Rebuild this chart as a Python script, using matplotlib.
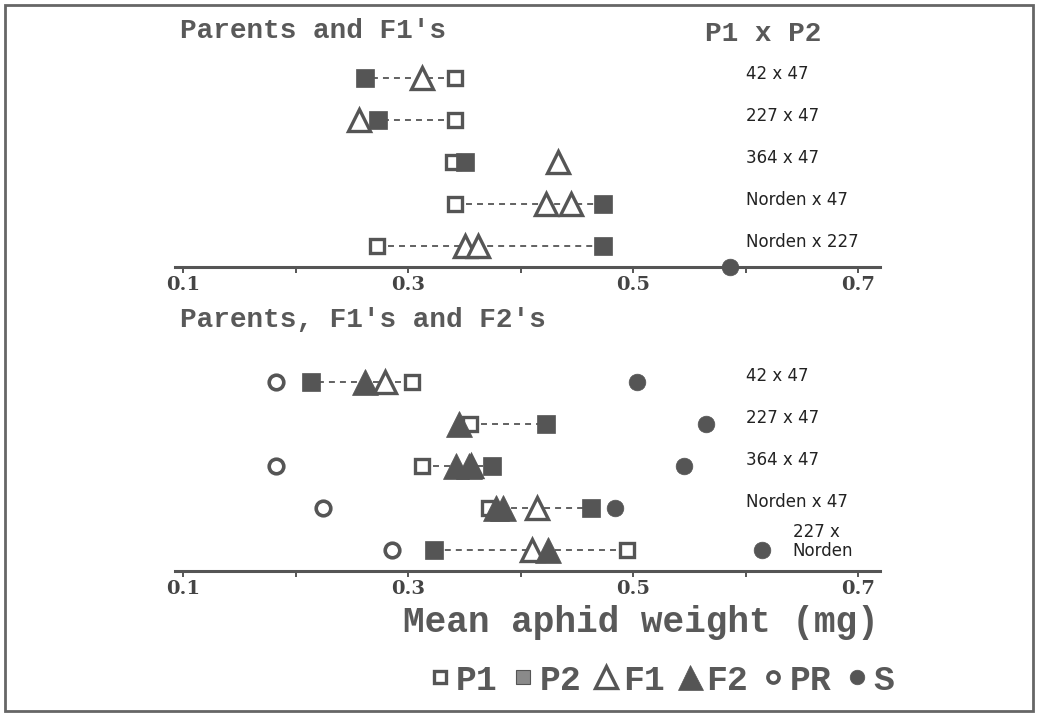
import matplotlib
matplotlib.use('Agg')
from matplotlib import pyplot as plt
from matplotlib.lines import Line2D
from matplotlib.patches import Rectangle

# Crosses (top to bottom) and mean aphid weights (mg).
top_crosses = ['42 x 47', '227 x 47', '364 x 47', 'Norden x 47', 'Norden x 227']
top_p1 = [0.342, 0.342, 0.340, 0.342, 0.272]
top_p2 = [0.262, 0.273, 0.351, 0.473, 0.473]
top_f1 = [[0.3125], [0.256], [0.433], [0.423, 0.445], [0.351, 0.3625]]
top_axis_s = [0.586]

bot_crosses = ['42 x 47', '227 x 47', '364 x 47', 'Norden x 47', '227 x\nNorden']
bot_p1 = [0.3036, 0.355, 0.3125, 0.372, 0.495]
bot_p2 = [0.2134, 0.423, 0.375, 0.463, 0.323]
bot_f1 = [[0.2795], [], [0.356], [0.415], [0.410]]
bot_f2 = [[0.2616], [0.3455], [0.343, 0.354], [0.378, 0.384], [0.424]]
bot_pr = [0.183, None, 0.183, 0.224, 0.286]
bot_s = [0.5036, 0.565, 0.5455, 0.484, 0.615]

ticks = [0.1, 0.2, 0.3, 0.4, 0.5, 0.6, 0.7]
tick_labels = ['0.1', '', '0.3', '', '0.5', '', '0.7']

ink = '#555555'
txt = '#595959'
mono = ['Liberation Mono', 'DejaVu Sans Mono']
serif = ['DejaVu Serif']

W, H = 1043, 716
fig = plt.figure(figsize=(W / 100, H / 100), dpi=100)

# marker styles
sty_p1 = dict(marker='s', ms=10.5, mfc='white', mec=ink, mew=2.4, ls='none', zorder=3)
sty_p2 = dict(marker='s', ms=12.5, mfc=ink, mec=ink, mew=0.5, ls='none', zorder=6)
sty_f1 = dict(marker='^', ms=16, mfc='white', mec=ink, mew=2.4, ls='none', zorder=4)
sty_f2 = dict(marker='^', ms=18.5, mfc=ink, mec=ink, mew=0.5, ls='none', zorder=5)
sty_pr = dict(marker='o', ms=10.5, mfc='white', mec=ink, mew=2.6, ls='none', zorder=3)
sty_s = dict(marker='o', ms=12, mfc=ink, mec=ink, mew=0.5, ls='none', zorder=3)


def setup_axis(ax):
    ax.set_xlim(0.1 - 8 / 1125, 0.1 + 697 / 1125)
    ax.set_ylim(0.5, 5.5)
    for s in ['top', 'left', 'right']:
        ax.spines[s].set_visible(False)
    ax.spines['bottom'].set_linewidth(2.2)
    ax.spines['bottom'].set_color(ink)
    ax.set_yticks([])
    ax.set_xticks(ticks)
    ax.set_xticklabels(tick_labels)
    ax.tick_params(axis='x', direction='out', length=4, width=1.4, color=ink,
                   pad=2.5, labelsize=14, labelcolor='#444444')
    for lab in ax.get_xticklabels():
        lab.set_family(serif)
        lab.set_fontweight('bold')
    ax.patch.set_visible(False)


def draw_dash(ax, a, b, y):
    ax.plot([a, b], [y, y], color=ink, lw=1.3, ls=(0, (3.3, 2.8)), zorder=2)


left = 175 / W
width = 705 / W
ax1 = fig.add_axes([left, 1 - 267 / H, width, 210 / H])
ax2 = fig.add_axes([left, 1 - 571 / H, width, 210 / H])
setup_axis(ax1)
setup_axis(ax2)

# top panel: parents and F1's
for i, name in enumerate(top_crosses):
    y = 5 - i
    if abs(top_p1[i] - top_p2[i]) > 0.02:
        draw_dash(ax1, top_p1[i], top_p2[i], y)
    ax1.plot(top_p1[i], y, **sty_p1)
    ax1.plot(top_p2[i], y, **sty_p2)
    for v in top_f1[i]:
        ax1.plot(v, y, **sty_f1)
    ax1.text(0.6, y + 0.1, name, fontsize=12, color='#222222', va='center',
             ha='left', family='DejaVu Sans')
ax1.plot(top_axis_s, [0.5] * len(top_axis_s), clip_on=False, **sty_s)

# bottom panel: parents, F1's and F2's
for i, name in enumerate(bot_crosses):
    y = 5 - i
    draw_dash(ax2, bot_p1[i], bot_p2[i], y)
    ax2.plot(bot_p1[i], y, **sty_p1)
    ax2.plot(bot_p2[i], y, **sty_p2)
    for v in bot_f1[i]:
        ax2.plot(v, y, **sty_f1)
    for v in bot_f2[i]:
        ax2.plot(v, y, **sty_f2)
    if bot_pr[i] is not None:
        ax2.plot(bot_pr[i], y, **sty_pr)
    ax2.plot(bot_s[i], y, **sty_s)
    if '\n' in name:
        ax2.text(0.642, y + 0.2, name, fontsize=12, color='#222222', va='center',
                 ha='left', family='DejaVu Sans', linespacing=1.05)
    else:
        ax2.text(0.6, y + 0.14, name, fontsize=12, color='#222222', va='center',
                 ha='left', family='DejaVu Sans')

# titles
fig.text(180 / W, 1 - 38 / H, "Parents and F1's", family=mono, fontsize=20,
         fontweight='bold', color=txt, va='baseline', ha='left')
fig.text(705 / W, 1 - 41 / H, 'P1 x P2', family=mono, fontsize=20,
         fontweight='bold', color=txt, va='baseline', ha='left')
fig.text(180 / W, 1 - 327 / H, "Parents, F1's and F2's", family=mono, fontsize=20,
         fontweight='bold', color=txt, va='baseline', ha='left')
fig.text(403 / W, 1 - 632 / H, 'Mean aphid weight (mg)', family=mono, fontsize=26,
         fontweight='bold', color=txt, va='baseline', ha='left')

# legend
handles = [
    Line2D([], [], marker='s', ms=8.5, mfc='white', mec=ink, mew=2.4, ls='none'),
    Line2D([], [], marker='s', ms=10, mfc='#8a8a8a', mec=ink, mew=0.8, ls='none'),
    Line2D([], [], marker='^', ms=16, mfc='white', mec=ink, mew=2.4, ls='none'),
    Line2D([], [], marker='^', ms=18, mfc=ink, mec=ink, mew=0.5, ls='none'),
    Line2D([], [], marker='o', ms=8, mfc='white', mec=ink, mew=2.6, ls='none'),
    Line2D([], [], marker='o', ms=10.5, mfc=ink, mec=ink, mew=0.5, ls='none'),
]
labels = ['P1', 'P2', 'F1', 'F2', 'PR', 'S']
leg = fig.legend(handles, labels, loc='center', bbox_to_anchor=(662 / W, 1 - 680 / H),
                 ncol=6, frameon=False, handlelength=0.55, handletextpad=0.2,
                 columnspacing=0.45, borderpad=0, borderaxespad=0,
                 prop={'family': mono, 'size': 25, 'weight': 'bold'})
for t in leg.get_texts():
    t.set_color(txt)

# outer frame
fig.patches.append(Rectangle((5 / W, 5 / H), 1028 / W, 706 / H, transform=fig.transFigure,
                             fill=False, lw=2, ec='#666666'))

fig.savefig('out.png', dpi=100)
